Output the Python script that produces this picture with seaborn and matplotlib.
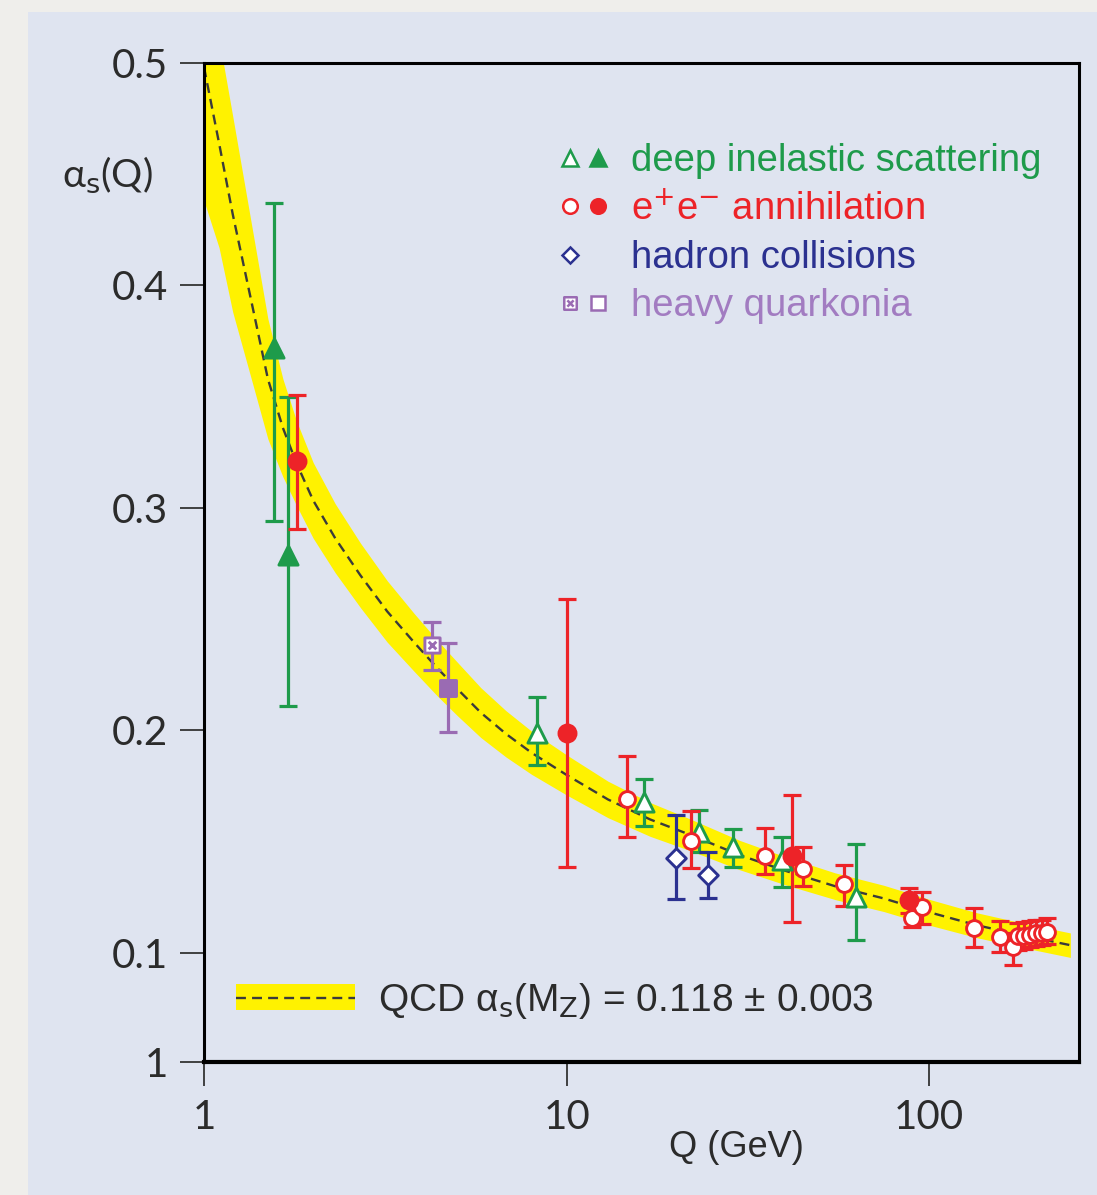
import numpy as np
import pandas as pd
import matplotlib
matplotlib.use("Agg")
import matplotlib.pyplot as plt
import seaborn as sns
from matplotlib.lines import Line2D
from matplotlib.patches import Patch, Rectangle
from matplotlib.path import Path
from matplotlib.ticker import NullLocator
from matplotlib.legend_handler import HandlerTuple

# QCD running coupling: dashed curve and yellow band
curve_q = [1.0, 1.1, 1.2, 1.35, 1.5, 1.65, 1.8, 2.0, 2.3, 2.7, 3.2, 3.8, 4.4, 5.0, 5.8,
           6.8, 8.0, 10, 13, 17, 22, 30, 40, 55, 75, 100, 135, 180, 245]
curve_alpha = [0.498, 0.464, 0.432, 0.393, 0.358, 0.336, 0.320, 0.3034, 0.2864, 0.2697, 0.2535, 0.2395,
               0.228, 0.2186, 0.208, 0.1985, 0.190, 0.180, 0.169, 0.160, 0.153, 0.144, 0.137, 0.130,
               0.1245, 0.1183, 0.1125, 0.108, 0.1035]
band_lo = [0.438, 0.417, 0.388, 0.358, 0.331, 0.314, 0.301, 0.2864, 0.2709, 0.2552, 0.2397, 0.2265,
           0.2155, 0.2066, 0.1968, 0.1881, 0.1803, 0.171, 0.1608, 0.1524, 0.1459, 0.1374, 0.1307, 0.124,
           0.1186, 0.1125, 0.1069, 0.1025, 0.098]
band_hi = [0.570, 0.511, 0.476, 0.428, 0.385, 0.358, 0.339, 0.3204, 0.3019, 0.2842, 0.2673, 0.2525,
           0.2405, 0.2306, 0.2192, 0.2089, 0.1997, 0.189, 0.1772, 0.1676, 0.1601, 0.1506, 0.1433, 0.136,
           0.1304, 0.1241, 0.1181, 0.1135, 0.109]

# deep inelastic scattering
dis_q = [1.56, 1.70, 8.27, 16.3, 23.2, 28.8, 39.3, 63.0]
dis_alpha = [0.372, 0.279, 0.199, 0.168, 0.1545, 0.1477, 0.1418, 0.1252]
dis_lo = [0.294, 0.211, 0.1845, 0.157, 0.1455, 0.1387, 0.1297, 0.1057]
dis_hi = [0.437, 0.350, 0.215, 0.178, 0.1644, 0.1557, 0.1523, 0.1488]
dis_filled = [1, 1, 0, 0, 0, 0, 0, 0]

# e+e- annihilation
ee_q = [1.80, 10.0, 14.7, 22.0, 35.3, 41.8, 44.8, 58.3, 87.7, 89.6, 95.2, 132.5, 156.6, 170.6,
        176, 183, 190, 197, 204, 211]
ee_alpha = [0.321, 0.199, 0.169, 0.1503, 0.1437, 0.1437, 0.1377, 0.1312, 0.1237, 0.1155, 0.1207, 0.111,
            0.1072, 0.1027, 0.1075, 0.1078, 0.1082, 0.1088, 0.1092, 0.1095]
ee_lo = [0.2904, 0.1387, 0.152, 0.138, 0.1357, 0.114, 0.130, 0.121, 0.118, 0.1117, 0.1132, 0.1027,
         0.1004, 0.0945, 0.1015, 0.102, 0.1025, 0.103, 0.1035, 0.104]
ee_hi = [0.3508, 0.2589, 0.1887, 0.164, 0.156, 0.171, 0.1477, 0.1395, 0.1293, 0.121, 0.1272, 0.120,
         0.1143, 0.109, 0.1135, 0.114, 0.1145, 0.115, 0.115, 0.1155]
ee_filled = [1, 1, 0, 0, 0, 1, 0, 0, 1, 0, 0, 0, 0, 0, 0, 0, 0, 0, 0, 0]

# hadron collisions
had_q = [20.0, 24.6]
had_alpha = [0.1428, 0.135]
had_lo = [0.1243, 0.1245]
had_hi = [0.162, 0.1455]
had_filled = [0, 0]

# heavy quarkonia (0 = crossed box, 1 = solid box)
qq_q = [4.25, 4.70]
qq_alpha = [0.2383, 0.219]
qq_lo = [0.2273, 0.1992]
qq_hi = [0.2488, 0.2393]
qq_filled = [0, 1]

xtick_vals = [1, 10, 100]
xtick_labels = ["1", "10", "100"]
ytick_vals = [0.051, 0.1, 0.2, 0.3, 0.4, 0.5]
ytick_labels = ["1", "0.1", "0.2", "0.3", "0.4", "0.5"]

legend_labels = ["deep inelastic scattering", r"e$^{+}$e$^{-}$ annihilation",
                 "hadron collisions", "heavy quarkonia"]
qcd_label = r"QCD α$_{\rm s}$(M$_{\rm Z}$) = 0.118 ± 0.003"

GREEN = "#1e9b4b"
RED = "#ed2328"
BLUE = "#2b3190"
PURPLE = "#9a6bb3"
PURPLE_TXT = "#a27cc1"
YELLOW = "#fff200"
DASH = "#3b3b3b"
PANEL = "#dfe4f0"
OUTER = "#efeeeb"

sns.set_style("ticks")
TEXT_FONT = ["Liberation Sans", "DejaVu Sans"]
TICK_FONT = ["Lato", "DejaVu Sans"]
plt.rcParams["font.family"] = TEXT_FONT

frames = []
for grp, q, a, lo, hi, f in [("dis", dis_q, dis_alpha, dis_lo, dis_hi, dis_filled),
                             ("ee", ee_q, ee_alpha, ee_lo, ee_hi, ee_filled),
                             ("had", had_q, had_alpha, had_lo, had_hi, had_filled),
                             ("qq", qq_q, qq_alpha, qq_lo, qq_hi, qq_filled)]:
    frames.append(pd.DataFrame({"q": q, "alpha": a, "lo": lo, "hi": hi, "filled": f, "group": grp}))
df = pd.concat(frames, ignore_index=True)

# square with a small cross inside
crossed_box = Path(
    [(-1, -1), (1, -1), (1, 1), (-1, 1), (-1, -1), (-0.5, -0.5), (0.5, 0.5), (-0.5, 0.5), (0.5, -0.5)],
    [Path.MOVETO, Path.LINETO, Path.LINETO, Path.LINETO, Path.CLOSEPOLY,
     Path.MOVETO, Path.LINETO, Path.MOVETO, Path.LINETO])

colors = {"dis": GREEN, "ee": RED, "had": BLUE, "qq": PURPLE}
marker_of = {("dis", 0): ("^", 190), ("dis", 1): ("^", 190),
             ("ee", 0): ("o", 130), ("ee", 1): ("o", 150),
             ("had", 0): ("D", 100),
             ("qq", 0): (crossed_box, 120), ("qq", 1): ("s", 140)}

fig = plt.figure(figsize=(10.97, 11.95), dpi=100)
fig.patch.set_facecolor(OUTER)
fig.add_artist(Rectangle((0.0255, 0), 0.98, 0.99, transform=fig.transFigure,
                         facecolor=PANEL, edgecolor="none", zorder=0))
ax = fig.add_axes([0.186, 0.1113, 0.7977, 0.836])
ax.set_facecolor(PANEL)
ax.set_xscale("log")

ax.fill_between(curve_q, band_lo, band_hi, color=YELLOW, lw=0, zorder=1)
sns.lineplot(x=curve_q, y=curve_alpha, ax=ax, color=DASH, lw=1.7,
             linestyle=(0, (4.2, 2.6)), zorder=2)

for (grp, filled), d in df.groupby(["group", "filled"]):
    c = colors[grp]
    ax.errorbar(d["q"], d["alpha"], yerr=[d["alpha"] - d["lo"], d["hi"] - d["alpha"]],
                fmt="none", ecolor=c, elinewidth=2.3, capsize=6.5, capthick=2.3, zorder=3)
    m, s = marker_of[(grp, filled)]
    sns.scatterplot(x=d["q"], y=d["alpha"], ax=ax, marker=m, s=s,
                    color=c if filled else "white", edgecolor=c, linewidth=2.1, zorder=4)

ax.set_xlim(1, 259)
ax.set_ylim(0.051, 0.5)
ax.set_xticks(xtick_vals, xtick_labels)
ax.xaxis.set_minor_locator(NullLocator())
ax.set_yticks(ytick_vals, ytick_labels)
ax.tick_params(axis="both", length=17, width=1.3, color="#333333", labelsize=29, labelcolor="#2b2b2b")
ax.tick_params(axis="x", pad=10)
ax.tick_params(axis="y", pad=9)
for lab in ax.get_xticklabels() + ax.get_yticklabels():
    lab.set_fontfamily(TICK_FONT)
for sp in ax.spines.values():
    sp.set_linewidth(2.2)
    sp.set_color("black")
ax.spines["bottom"].set_linewidth(3.0)

ax.set_xlabel("Q (GeV)", fontsize=26, color="#2b2b2b")
ax.xaxis.set_label_coords(0.608, -0.068)
ax.set_ylabel(r"α$_{\rm s}$(Q)", rotation=0, fontsize=28, color="#2b2b2b",
              ha="center", va="center", family=TICK_FONT)
ax.yaxis.set_label_coords(-0.111, 0.888)

# legend of data sets
def mk(marker, face, edge, ms=10):
    return Line2D([], [], ls="none", marker=marker, ms=ms, mfc=face, mec=edge, mew=1.8)

handles = [
    (mk("^", "white", GREEN, 11.5), mk("^", GREEN, GREEN, 11.5)),
    (mk("o", "white", RED, 10.5), mk("o", RED, RED, 10.5)),
    (mk("D", "white", BLUE, 8.5), Line2D([], [], ls="none")),
    (mk(crossed_box, "white", PURPLE, 9), mk("s", "white", PURPLE, 9.5)),
]
leg1 = ax.legend(handles, legend_labels, loc="center left", bbox_to_anchor=(0.4046, 0.829),
                 frameon=False, prop={"family": TEXT_FONT, "size": 27.5},
                 labelcolor=[GREEN, RED, BLUE, PURPLE_TXT],
                 handler_map={tuple: HandlerTuple(ndivide=None, pad=0.1)},
                 handlelength=1.35, handletextpad=0.55, labelspacing=0.32,
                 borderpad=0, borderaxespad=0)
ax.add_artist(leg1)

qcd_handle = (Patch(facecolor=YELLOW, edgecolor="none"),
              Line2D([], [], color=DASH, lw=1.7, linestyle=(0, (4.2, 2.6))))
ax.legend([qcd_handle], [qcd_label], loc="center left", bbox_to_anchor=(0.0366, 0.061),
          frameon=False, prop={"family": TEXT_FONT, "size": 28}, labelcolor="#2b2b2b",
          handler_map={tuple: HandlerTuple(ndivide=1)},
          handlelength=3.05, handleheight=0.65, handletextpad=0.6,
          borderpad=0, borderaxespad=0)

fig.savefig("out.png", dpi=100, facecolor=fig.get_facecolor())
